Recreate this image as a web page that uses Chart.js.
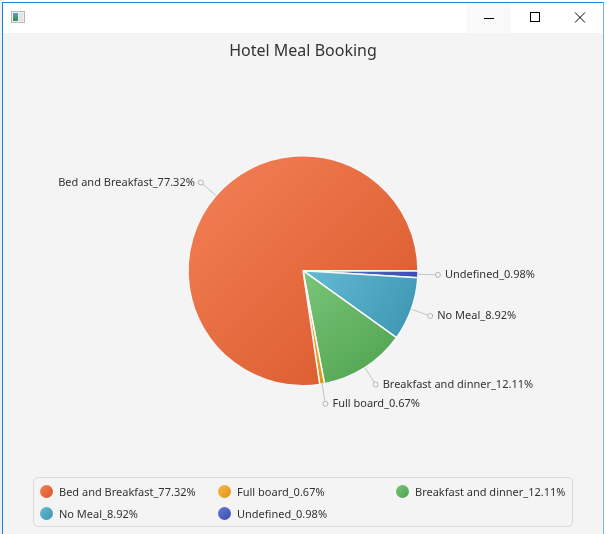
<!DOCTYPE html>
<html>
<head>
<meta charset="utf-8">
<script src="https://cdn.jsdelivr.net/npm/chart.js@4.4.0/dist/chart.umd.min.js"></script>
<style>
  html, body { margin:0; padding:0; width:607px; height:534px; overflow:hidden; background:#ffffff; }
  #desk { position:absolute; left:0; top:0; width:2px; height:534px; background:#f0f0f0; }
  #win { position:absolute; left:2px; top:2px; width:602px; height:560px; box-sizing:border-box;
         border-left:1px solid #1883d7; border-top:1px solid #1883d7; border-right:1px solid #7fb0e0;
         background:#f4f4f4; }
  #titlebar { position:absolute; left:0; top:0; right:0; height:30px; background:#ffffff; }
  #minhover { position:absolute; left:463px; top:0; width:45px; height:30px; background:#f9f9f9; }
  #icon { position:absolute; left:8px; top:8px; width:12px; height:10px; border:1px solid #b9b9b9; background:#f0f0f0; }
  #icon .l { position:absolute; left:1px; top:1px; width:5px; height:8px; background:linear-gradient(#5aa0c8,#3d8a4a); }
  #icon .r { position:absolute; left:7px; top:1px; width:4px; height:8px; background:#dfe6ea; }
  svg.btn { position:absolute; }
  #chartWrap { position:absolute; left:0; top:0; width:607px; height:534px; }
  #legendBox { position:absolute; left:33px; top:477px; width:540px; height:50px; box-sizing:border-box;
               border:1px solid #dadada; border-radius:5px; }
  .lg-item { position:absolute; height:16px; font-family:"Noto Sans", sans-serif; font-size:11px; color:#333;
             white-space:nowrap; line-height:16px; }
  .lg-dot { position:absolute; left:0; top:1px; width:13px; height:13px; border-radius:50%; }
  .lg-text { position:absolute; left:19px; top:0; }
</style>
</head>
<body>
<div id="desk"></div>
<div id="win">
  <div id="titlebar">
    <div id="minhover"></div>
    <div id="icon"><div class="l"></div><div class="r"></div></div>
    <svg class="btn" style="left:480px;top:10px" width="12" height="12"><line x1="1" y1="5.5" x2="11" y2="5.5" stroke="#000" stroke-width="1"/></svg>
    <svg class="btn" style="left:526px;top:9px" width="12" height="12"><rect x="1.5" y="0.5" width="9" height="9" fill="none" stroke="#000" stroke-width="1"/></svg>
    <svg class="btn" style="left:571px;top:9px" width="12" height="12"><path d="M1 0.5 L11 10.5 M11 0.5 L1 10.5" stroke="#000" stroke-width="1" fill="none"/></svg>
  </div>
</div>
<div id="chartWrap"><canvas id="c" width="607" height="534"></canvas></div>
<div id="legendBox"></div>
<div id="legendItems"></div>
<script>
// ---- data ----
const chartTitle = 'Hotel Meal Booking';
const categories = ['Bed and Breakfast', 'Full board', 'Breakfast and dinner', 'No Meal', 'Undefined'];
const percentages = [77.32, 0.67, 12.11, 8.92, 0.98];
const sliceColors = ['#f3622d', '#fba71b', '#57b757', '#41a9c9', '#4258c9'];

// ---- helpers ----
const labelTexts = categories.map((c, i) => c + '_' + percentages[i].toFixed(2) + '%');
function hexToRgb(h){ h=h.replace('#',''); return [parseInt(h.substr(0,2),16),parseInt(h.substr(2,2),16),parseInt(h.substr(4,2),16)]; }
function derive(hex, f){
  const c = hexToRgb(hex);
  const r = f >= 0 ? c.map(v => Math.round(v + (255 - v) * f)) : c.map(v => Math.round(v * (1 + f)));
  return 'rgb(' + r.join(',') + ')';
}

// JavaFX draws the slices counter-clockwise from 3 o'clock; Chart.js goes clockwise,
// so feed the series reversed and start at 3 o'clock.
const order = categories.map((_, i) => i).reverse();
const chartLabels = order.map(i => labelTexts[i]);
const chartValues = order.map(i => percentages[i]);
const chartColors = order.map(i => sliceColors[i]);

const FONT = '"Noto Sans", sans-serif';

const sliceGradient = {
  id: 'sliceGradient',
  beforeDatasetsDraw(chart) {
    const ctx = chart.ctx;
    const meta = chart.getDatasetMeta(0);
    meta.data.forEach((arc, i) => {
      const p = arc.getProps(['x','y','startAngle','endAngle','outerRadius'], true);
      let minX = p.x, maxX = p.x, minY = p.y, maxY = p.y;
      const steps = 48;
      for (let k = 0; k <= steps; k++) {
        const a = p.startAngle + (p.endAngle - p.startAngle) * k / steps;
        const px = p.x + p.outerRadius * Math.cos(a), py = p.y + p.outerRadius * Math.sin(a);
        minX = Math.min(minX, px); maxX = Math.max(maxX, px);
        minY = Math.min(minY, py); maxY = Math.max(maxY, py);
      }
      const g = ctx.createLinearGradient(minX, minY, maxX, maxY);
      g.addColorStop(0, derive(chartColors[i], 0.2));
      g.addColorStop(1, derive(chartColors[i], -0.12));
      arc.options = Object.assign({}, arc.options, { backgroundColor: g });
    });
  }
};

const pieLabels = {
  id: 'pieLabels',
  afterDatasetsDraw(chart) {
    const ctx = chart.ctx;
    const meta = chart.getDatasetMeta(0);
    ctx.save();
    ctx.font = '11px ' + FONT;
    ctx.textBaseline = 'middle';
    meta.data.forEach((arc, i) => {
      const p = arc.getProps(['x','y','startAngle','endAngle','outerRadius'], true);
      const mid = (p.startAngle + p.endAngle) / 2;
      const cx = Math.cos(mid), cy = Math.sin(mid);
      const x1 = p.x + p.outerRadius * cx, y1 = p.y + p.outerRadius * cy;
      const x2 = p.x + (p.outerRadius + 20) * cx, y2 = p.y + (p.outerRadius + 20) * cy;
      ctx.strokeStyle = '#c4c4c4';
      ctx.lineWidth = 1;
      ctx.beginPath(); ctx.moveTo(x1, y1); ctx.lineTo(x2, y2); ctx.stroke();
      ctx.beginPath(); ctx.arc(x2, y2, 2.5, 0, Math.PI * 2);
      ctx.fillStyle = '#f4f4f4'; ctx.fill();
      ctx.strokeStyle = '#b5b5b5'; ctx.stroke();
      ctx.fillStyle = '#333333';
      if (cx >= 0) { ctx.textAlign = 'left'; ctx.fillText(chart.data.labels[i], x2 + 7, y2); }
      else { ctx.textAlign = 'right'; ctx.fillText(chart.data.labels[i], x2 - 6, y2); }
    });
    ctx.restore();
  }
};

new Chart(document.getElementById('c'), {
  type: 'pie',
  data: {
    labels: chartLabels,
    datasets: [{
      data: chartValues,
      backgroundColor: chartColors,
      borderColor: '#f7f7f7',
      borderWidth: 1.5,
      radius: 115
    }]
  },
  options: {
    responsive: false,
    animation: false,
    events: [],
    rotation: 90,
    layout: { padding: { top: 0, left: 0, right: 1, bottom: 53.8 } },
    plugins: {
      legend: { display: false },
      tooltip: { enabled: false },
      title: {
        display: true,
        text: chartTitle,
        color: '#333333',
        font: { family: FONT, size: 16, weight: 'normal', lineHeight: 1.2 },
        padding: { top: 42, bottom: 0 }
      }
    }
  },
  plugins: [sliceGradient, pieLabels]
});

// legend (JavaFX-style grid)
const legendHost = document.getElementById('legendItems');
labelTexts.forEach((t, i) => {
  const col = i % 3, row = Math.floor(i / 3);
  const item = document.createElement('div');
  item.className = 'lg-item';
  item.style.left = (40 + col * 178) + 'px';
  item.style.top = (484 + row * 22) + 'px';
  const dot = document.createElement('div');
  dot.className = 'lg-dot';
  dot.style.background = 'linear-gradient(to bottom right,' + derive(sliceColors[i], 0.2) + ',' + derive(sliceColors[i], -0.12) + ')';
  const tx = document.createElement('div');
  tx.className = 'lg-text';
  tx.textContent = t;
  item.appendChild(dot); item.appendChild(tx);
  legendHost.appendChild(item);
});
</script>
</body>
</html>
